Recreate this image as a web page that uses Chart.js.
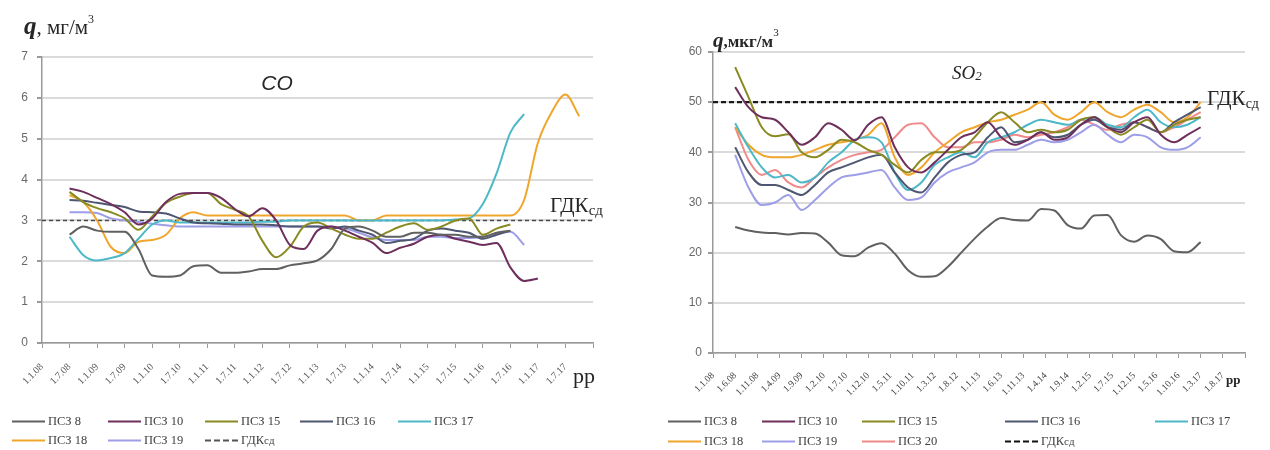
<!DOCTYPE html>
<html>
<head>
<meta charset="utf-8">
<script src="https://cdn.jsdelivr.net/npm/chart.js@4.4.1/dist/chart.umd.min.js"></script>
<style>
  html, body { margin: 0; padding: 0; background: #fff; }
  #wrap { position: relative; width: 1270px; height: 450px; overflow: hidden; background: #fff; }
  #wrap canvas { position: absolute; top: 0; }
  #coCanvas { left: 0; }
  #so2Canvas { left: 635px; }
  .legend { position: absolute; left: 0; top: 0; font-family: "Liberation Serif", serif; font-size: 12.5px; color: #404040; }
  .legend .item { position: absolute; display: flex; align-items: center; white-space: nowrap; transform: translateY(-50%); }
  .legend .swatch { width: 33px; height: 0; border-top-width: 2px; border-top-style: solid; margin-right: 3px; }
</style>
</head>
<body>
<div id="wrap">
  <canvas id="coCanvas" width="635" height="450"></canvas>
  <canvas id="so2Canvas" width="635" height="450"></canvas>
  <div id="coLegend" class="legend"></div>
  <div id="so2Legend" class="legend"></div>
</div>
<script>
// Time axis: month index, 0 = January 2008, 120 = January 2018.

// ---------- CO, mg/m3 ----------
const coMonths = [6, 9, 12, 15, 18, 21, 24, 27, 30, 33, 36, 39, 42, 45, 48, 51, 54, 57, 60, 63,
                  66, 69, 72, 75, 78, 81, 84, 87, 90, 93, 96, 99, 102, 105, 108, 111, 114, 117];
const coTickLabels = ['1.1.08', '1.7.08', '1.1.09', '1.7.09', '1.1.10', '1.7.10', '1.1.11', '1.7.11',
                      '1.1.12', '1.7.12', '1.1.13', '1.7.13', '1.1.14', '1.7.14', '1.1.15', '1.7.15',
                      '1.1.16', '1.7.16', '1.1.17', '1.7.17'];
const coPsz8  = [2.65, 2.85, 2.75, 2.72, 2.72, 2.3, 1.65, 1.62, 1.65, 1.88, 1.9, 1.72, 1.72, 1.75, 1.81, 1.81, 1.9, 1.95, 2.02, 2.3,
                 2.8, 2.85, 2.75, 2.6, 2.6, 2.7, 2.7, 2.65, 2.65, 2.6, 2.6, 2.7, 2.75, null, null, null, null, null];
const coPsz10 = [3.78, 3.7, 3.55, 3.4, 3.2, 2.9, 3.05, 3.45, 3.65, 3.67, 3.67, 3.55, 3.28, 3.1, 3.3, 3.0, 2.4, 2.3, 2.75, 2.85,
                 2.75, 2.6, 2.45, 2.2, 2.33, 2.43, 2.6, 2.65, 2.55, 2.48, 2.4, 2.45, 1.85, 1.52, 1.58, null, null, null];
const coPsz15 = [3.7, 3.45, 3.3, 3.2, 3.05, 2.77, 3.1, 3.43, 3.58, 3.67, 3.67, 3.4, 3.26, 3.1, 2.5, 2.1, 2.36, 2.85, 2.95, 2.8,
                 2.65, 2.55, 2.55, 2.7, 2.85, 2.93, 2.77, 2.85, 3.0, 3.05, 2.65, 2.8, 2.9, null, null, null, null, null];
const coPsz16 = [3.5, 3.48, 3.43, 3.38, 3.33, 3.22, 3.2, 3.17, 3.05, 2.95, 2.93, 2.92, 2.9, 2.9, 2.9, 2.88, 2.85, 2.85, 2.85, 2.8,
                 2.85, 2.75, 2.65, 2.45, 2.5, 2.55, 2.75, 2.8, 2.75, 2.7, 2.55, 2.65, 2.75, null, null, null, null, null];
const coPsz17 = [2.6, 2.15, 2.02, 2.08, 2.2, 2.55, 2.9, 3.0, 2.95, 2.95, 2.95, 2.95, 2.95, 2.95, 2.97, 2.97, 3.0, 3.0, 3.0, 3.0,
                 3.0, 3.0, 3.0, 3.0, 3.0, 3.0, 3.0, 3.0, 3.02, 3.05, 3.4, 4.15, 5.15, 5.6, null, null, null, null];
const coPsz18 = [3.62, 3.45, 3.0, 2.35, 2.2, 2.48, 2.52, 2.65, 3.05, 3.2, 3.12, 3.12, 3.12, 3.12, 3.12, 3.12, 3.12, 3.12, 3.12, 3.12,
                 3.12, 3.0, 3.0, 3.12, 3.12, 3.12, 3.12, 3.12, 3.12, 3.12, 3.12, 3.12, 3.12, 3.5, 4.9, 5.65, 6.08, 5.55];
const coPsz19 = [3.2, 3.2, 3.18, 3.05, 3.0, 2.96, 2.92, 2.88, 2.85, 2.85, 2.85, 2.85, 2.85, 2.85, 2.85, 2.85, 2.85, 2.85, 2.85, 2.85,
                 2.8, 2.7, 2.58, 2.52, 2.52, 2.52, 2.6, 2.6, 2.57, 2.57, 2.6, 2.68, 2.72, 2.4, null, null, null, null];
const coLimit = 3;
const coLimitSpan = [0, 120];

// ---------- SO2, ug/m3 ----------
const so2Months = [5, 8, 11, 14, 17, 20, 23, 26, 29, 32, 35, 38, 41, 44, 47, 50, 53, 56, 59, 62,
                   65, 68, 71, 74, 77, 80, 83, 86, 89, 92, 95, 98, 101, 104, 107, 110];
const so2TickLabels = ['1.1.08', '1.6.08', '1.11.08', '1.4.09', '1.9.09', '1.2.10', '1.7.10', '1.12.10',
                       '1.5.11', '1.10.11', '1.3.12', '1.8.12', '1.1.13', '1.6.13', '1.11.13', '1.4.14',
                       '1.9.14', '1.2.15', '1.7.15', '1.12.15', '1.5.16', '1.10.16', '1.3.17', '1.8.17'];
const so2Psz8  = [25.1, 24.4, 24.0, 23.9, 23.6, 23.9, 23.8, 22.0, 19.5, 19.3, 21.0, 21.9, 19.8, 16.5, 15.2, 15.3, 17.2, 20.0, 22.8, 25.2,
                  26.9, 26.5, 26.4, 28.7, 28.4, 25.5, 24.8, 27.4, 27.5, 23.5, 22.2, 23.4, 22.7, 20.3, 20.1, 22.1];
const so2Psz10 = [53, 49, 47, 46.5, 44, 41.5, 43, 45.8, 44.5, 42.4, 45.5, 47, 41, 37, 36, 38, 40.5, 43, 44, 46,
                  43, 41.5, 42.5, 44, 42.5, 43, 45.5, 47, 45, 44, 46, 47, 43.5, 42, 43.5, 45];
const so2Psz15 = [57, 51, 45, 43.2, 43.6, 40, 39, 40.5, 42.5, 42, 40.5, 39.5, 37.5, 36, 38.5, 40, 40, 40.5, 43, 46,
                  48, 46, 44, 44.5, 44, 44.5, 46.5, 47, 45, 43.5, 45, 46.5, 44, 45.5, 46.5, 47];
const so2Psz16 = [41, 36, 33.5, 33.5, 32.5, 31.5, 33.5, 36, 37, 38, 39, 39.5, 36, 33, 32, 35, 38, 39.5, 40, 43,
                  45, 42, 42.5, 44, 43, 43.5, 45.5, 46.5, 45, 44.5, 46, 45, 44, 46, 47.5, 49];
const so2Psz17 = [45.8, 41, 37, 35, 35.5, 34, 35, 38, 40, 42.5, 43, 42, 36, 32.5, 34, 37.5, 39, 40, 39, 42,
                  43, 44, 45.5, 46.5, 46, 45.5, 46.5, 47, 45.5, 45, 47, 48.5, 46, 45, 45.5, 47];
const so2Psz18 = [45, 41.5, 39.5, 39, 39, 39.5, 40.5, 41.5, 42, 42.5, 43.5, 45.8, 39, 35.5, 37, 40, 42, 44, 45, 46,
                  46.5, 47.5, 48.5, 50, 47.5, 46.5, 48, 50, 48, 47, 48.5, 49.5, 48, 46, 47, 50];
const so2Psz19 = [39.5, 33, 29.5, 30, 31.5, 28.5, 30.5, 33, 35, 35.5, 36, 36.5, 33, 30.5, 31, 34, 36, 37, 38, 40,
                  40.5, 40.5, 41.5, 42.5, 42, 42.5, 44, 45.5, 43.5, 42, 43.5, 43, 41, 40.5, 41, 43];
const so2Psz20 = [45, 38.5, 35.5, 36.5, 34, 33, 35, 37, 38.5, 39.5, 40, 40.5, 43, 45.5, 45.8, 43, 41, 41, 42, 42,
                  42.5, 43.5, 43, 43.5, 44, 45, 46.5, 45.5, 44.5, 45.5, 46, 45, 44, 45, 46.5, 48];
const so2Limit = 50;
const so2LimitSpan = [0, 110];

// ---------- styles ----------
const lineColors = {
  'ПСЗ 8': '#606060',
  'ПСЗ 10': '#6e2f5c',
  'ПСЗ 15': '#8a8a22',
  'ПСЗ 16': '#4e5672',
  'ПСЗ 17': '#4cb8c8',
  'ПСЗ 18': '#f0a52c',
  'ПСЗ 19': '#9d9de8',
  'ПСЗ 20': '#f08a8a'
};

const coSeries = [
  ['ПСЗ 8', coPsz8], ['ПСЗ 10', coPsz10], ['ПСЗ 15', coPsz15], ['ПСЗ 16', coPsz16],
  ['ПСЗ 17', coPsz17], ['ПСЗ 18', coPsz18], ['ПСЗ 19', coPsz19]
];
const so2Series = [
  ['ПСЗ 8', so2Psz8], ['ПСЗ 10', so2Psz10], ['ПСЗ 15', so2Psz15], ['ПСЗ 16', so2Psz16],
  ['ПСЗ 17', so2Psz17], ['ПСЗ 18', so2Psz18], ['ПСЗ 19', so2Psz19], ['ПСЗ 20', so2Psz20]
];

function toPoints(months, values) {
  const pts = [];
  months.forEach((m, i) => { if (values[i] !== null && values[i] !== undefined) pts.push({ x: m, y: values[i] }); });
  return pts;
}

function buildDatasets(months, series, limit, span, limitStyle) {
  const sets = series.map(([name, values]) => ({
    label: name,
    data: toPoints(months, values),
    borderColor: lineColors[name],
    borderWidth: 2,
    pointRadius: 0,
    fill: false,
    cubicInterpolationMode: 'monotone'
  }));
  sets.push({
    label: 'ГДКсд',
    data: span.map(m => ({ x: m, y: limit })),
    borderColor: limitStyle.color,
    borderWidth: limitStyle.width,
    borderDash: limitStyle.dash,
    pointRadius: 0,
    fill: false
  });
  return sets;
}

// draws a run of differently styled text pieces one after another
function drawRuns(ctx, x, y, runs) {
  runs.forEach(r => {
    ctx.font = r.font;
    ctx.fillStyle = r.color || '#262626';
    ctx.fillText(r.text, x, y + (r.dy || 0));
    x += ctx.measureText(r.text).width + (r.gap || 0);
  });
}

const SERIF = '"Liberation Serif", "Times New Roman", serif';
const SANS = '"Liberation Sans", Arial, sans-serif';

function makeChart(canvasId, cfg) {
  return new Chart(document.getElementById(canvasId), {
    type: 'line',
    data: { datasets: buildDatasets(cfg.months, cfg.series, cfg.limit, cfg.span, cfg.limitStyle) },
    options: {
      responsive: false,
      animation: false,
      events: [],
      layout: { padding: cfg.padding },
      plugins: { legend: { display: false }, tooltip: { enabled: false } },
      scales: {
        x: {
          type: 'linear',
          min: 0,
          max: 120,
          afterFit: s => { s.height = cfg.xHeight; },
          border: { color: '#9a9a9a', width: 1.5 },
          grid: { drawOnChartArea: false, drawTicks: true, tickLength: 5, color: '#9a9a9a', lineWidth: 1 },
          ticks: {
            stepSize: cfg.tickStep,
            autoSkip: false,
            minRotation: 45,
            maxRotation: 45,
            padding: cfg.xTickPadding,
            color: cfg.xTickColor,
            font: { family: SERIF, size: cfg.xTickSize },
            callback: v => cfg.tickLabels[Math.round(v / cfg.tickStep)] || ''
          }
        },
        y: {
          min: 0,
          max: cfg.yMax,
          afterFit: s => { s.width = cfg.yWidth; },
          border: { color: '#9a9a9a', width: 1.5 },
          grid: { color: '#dadada', lineWidth: 2, tickColor: '#9a9a9a', tickLength: 5, drawTicks: true },
          ticks: {
            stepSize: cfg.yStep,
            padding: cfg.yTickPadding,
            color: '#6a6a6a',
            font: { family: SANS, size: 12 }
          }
        }
      }
    },
    plugins: [{ id: 'chartTexts', afterDraw: chart => cfg.texts(chart) }]
  });
}

// ---------- CO chart ----------
makeChart('coCanvas', {
  months: coMonths, series: coSeries, limit: coLimit, span: coLimitSpan,
  limitStyle: { color: '#4a4a4a', width: 1.5, dash: [4, 3] },
  padding: { left: 0, top: 57, right: 42, bottom: 0 },
  xHeight: 107, yWidth: 42, yMax: 7, yStep: 1,
  tickStep: 6, tickLabels: coTickLabels, xTickSize: 10, xTickPadding: 13, yTickPadding: 9, xTickColor: '#5a5a5a',
  texts: chart => {
    const ctx = chart.ctx;
    const ys = chart.scales.y;
    const area = chart.chartArea;
    ctx.save();
    ctx.textBaseline = 'alphabetic';
    drawRuns(ctx, 24, area.top - 23, [
      { text: 'q', font: `italic bold 25px ${SERIF}` },
      { text: ', ', font: `21px ${SERIF}` },
      { text: 'мг/м', font: `21px ${SERIF}` },
      { text: '3', font: `12px ${SERIF}`, dy: -11 }
    ]);
    ctx.textAlign = 'center';
    ctx.font = `italic 21px ${SANS}`;
    ctx.fillStyle = '#262626';
    ctx.fillText('CO', 277, area.top + 33);
    ctx.textAlign = 'left';
    drawRuns(ctx, 550, ys.getPixelForValue(coLimit) - 8, [
      { text: 'ГДК', font: `21px ${SERIF}` },
      { text: 'сд', font: `15px ${SERIF}`, dy: 3 }
    ]);
    drawRuns(ctx, 573, area.bottom + 40, [{ text: 'рр', font: `22px ${SERIF}` }]);
    ctx.restore();
  }
});

// ---------- SO2 chart ----------
makeChart('so2Canvas', {
  months: so2Months, series: so2Series, limit: so2Limit, span: so2LimitSpan,
  limitStyle: { color: '#1a1a1a', width: 2.2, dash: [5, 3] },
  padding: { left: 0, top: 52, right: 25, bottom: 0 },
  xHeight: 97, yWidth: 78, yMax: 60, yStep: 10,
  tickStep: 5, tickLabels: so2TickLabels, xTickSize: 9.5, xTickPadding: 12, yTickPadding: 6, xTickColor: '#404040',
  texts: chart => {
    const ctx = chart.ctx;
    const ys = chart.scales.y;
    const area = chart.chartArea;
    ctx.save();
    ctx.textBaseline = 'alphabetic';
    drawRuns(ctx, area.left, area.top - 5, [
      { text: 'q', font: `italic bold 21px ${SERIF}` },
      { text: ',', font: `bold 17px ${SERIF}` },
      { text: 'мкг/м', font: `bold 17px ${SERIF}` },
      { text: '3', font: `11px ${SERIF}`, dy: -11 }
    ]);
    drawRuns(ctx, 317, area.top + 27, [
      { text: 'SO', font: `italic 19px ${SERIF}` },
      { text: '2', font: `italic 13px ${SERIF}`, dy: 1 }
    ]);
    drawRuns(ctx, 572, ys.getPixelForValue(so2Limit) + 3, [
      { text: 'ГДК', font: `21px ${SERIF}` },
      { text: 'сд', font: `14px ${SERIF}`, dy: 3 }
    ]);
    drawRuns(ctx, 591, area.bottom + 31, [{ text: 'рр', font: `bold 13px ${SERIF}` }]);
    ctx.restore();
  }
});

// ---------- legends ----------
function buildLegend(elId, names, columns, rows, limitColor) {
  const el = document.getElementById(elId);
  names.forEach((name, i) => {
    const item = document.createElement('div');
    item.className = 'item';
    item.style.left = columns[i % columns.length] + 'px';
    item.style.top = rows[Math.floor(i / columns.length)] + 'px';
    const sw = document.createElement('span');
    sw.className = 'swatch';
    const txt = document.createElement('span');
    if (name === 'ГДКсд') {
      sw.style.borderTopStyle = 'dashed';
      sw.style.borderTopColor = limitColor;
      txt.innerHTML = 'ГДК<span style="font-size:11px">сд</span>';
    } else {
      sw.style.borderTopColor = lineColors[name];
      txt.textContent = name;
    }
    item.appendChild(sw);
    item.appendChild(txt);
    el.appendChild(item);
  });
}
buildLegend('coLegend', coSeries.map(s => s[0]).concat(['ГДКсд']), [12, 108, 205, 300, 398], [421, 440], '#555');
buildLegend('so2Legend', so2Series.map(s => s[0]).concat(['ГДКсд']), [668, 762, 862, 1005, 1155], [421, 441], '#111');
</script>
</body>
</html>
